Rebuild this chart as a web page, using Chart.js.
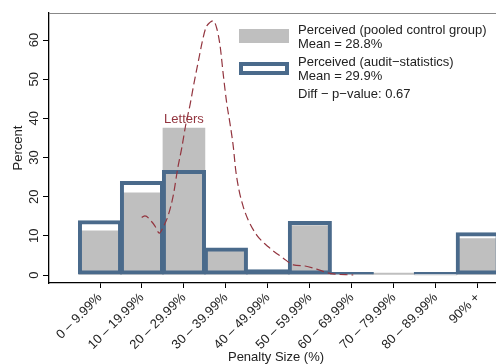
<!DOCTYPE html>
<html>
<head>
<meta charset="utf-8">
<script src="https://cdn.jsdelivr.net/npm/chart.js@4"></script>
<style>
  html,body{margin:0;padding:0;background:#fff;}
  #wrap{width:496px;height:364px;}
</style>
</head>
<body>
<div id="wrap"><canvas id="chart" width="496" height="364"></canvas></div>
<script>
const cats = ["0 – 9.99%","10 – 19.99%","20 – 29.99%","30 – 39.99%","40 – 49.99%","50 – 59.99%","60 – 69.99%","70 – 79.99%","80 – 89.99%","90% +"];
const pooled = [11.3, 21.0, 37.5, 6.7, 0.8, 12.6, 0.5, 0.5, 0, 9.3];
const audit  = [14.0, 24.0, 26.8, 7.0, 1.45, 13.8, 0.8, 0, 0.8, 10.9];
const yTicks = [0, 10, 20, 30, 40, 50, 60];

// "Letters" density curve (x in category units, y in percent)
const lettersX = [0.994,1.072,1.232,1.310,1.413,1.508,1.627,1.747,1.851,1.947,2.042,2.144,2.247,2.342,2.437,2.518,2.621,2.700,2.781,2.859,2.938,3.019,3.097,3.176,3.233,3.312,3.414,3.533,3.734,4.010,4.367,4.606,4.884,5.163,5.480,6.035];
const lettersY = [14.7,15.1,13.6,12.5,10.7,12.3,15.3,20.4,27.2,32.4,38.3,43.4,49.4,54.5,59.6,63.0,64.5,64.9,63.0,58.7,51.1,43.9,38.7,32.8,26.8,21.7,17.4,14.0,10.2,7.2,4.3,2.6,2.3,1.5,0.4,0];

const BLUE = "#4a6a8b";
const GRAY = "#bfbfbf";
const RED = "#93353f";
const FONT = "'Liberation Sans', Arial, sans-serif";

const extras = {
  id:"extras",
  afterDraw(c){
    const ctx = c.ctx, a = c.chartArea, x = c.scales.x, y = c.scales.y;
    ctx.save();
    // top frame line
    ctx.strokeStyle = "#888"; ctx.lineWidth = 1;
    ctx.beginPath(); ctx.moveTo(a.left, a.top+0.5); ctx.lineTo(a.right, a.top+0.5); ctx.stroke();

    ctx.fillStyle = "#222";
    ctx.font = "13px " + FONT;
    // y tick labels, rotated
    yTicks.forEach(v=>{
      ctx.save();
      ctx.translate(34, y.getPixelForValue(v));
      ctx.rotate(-Math.PI/2);
      ctx.textAlign = "center"; ctx.textBaseline = "middle";
      ctx.fillText(String(v), 0, 0);
      ctx.restore();
    });
    // axis titles
    ctx.save();
    ctx.translate(18, (a.top+a.bottom)/2);
    ctx.rotate(-Math.PI/2);
    ctx.textAlign = "center"; ctx.textBaseline = "middle";
    ctx.fillText("Percent", 0, 0);
    ctx.restore();
    ctx.textAlign = "center"; ctx.textBaseline = "middle";
    ctx.fillText("Penalty Size (%)", 276, 357);

    // Letters label
    ctx.fillStyle = RED;
    ctx.fillText("Letters", x.getPixelForValue(2), y.getPixelForValue(39.6));

    // legend
    ctx.fillStyle = GRAY;
    ctx.fillRect(239, 29, 50, 14);
    ctx.strokeStyle = BLUE; ctx.lineWidth = 4;
    ctx.strokeRect(241, 64, 46, 9);
    ctx.fillStyle = "#222"; ctx.textAlign = "left";
    ctx.fillText("Perceived (pooled control group)", 298, 30);
    ctx.fillText("Mean = 28.8%", 298, 44);
    ctx.fillText("Perceived (audit−statistics)", 298, 62);
    ctx.fillText("Mean = 29.9%", 298, 76);
    ctx.fillText("Diff − p−value: 0.67", 298, 94);
    ctx.restore();
  }
};

new Chart(document.getElementById("chart"), {
  type:"bar",
  data:{
    datasets:[
      { type:"line", label:"Letters", order:0,
        data: lettersX.map((v,i)=>({x:v, y:lettersY[i]})),
        borderColor:RED, borderWidth:1.2, borderDash:[8,4], pointRadius:0,
        cubicInterpolationMode:"monotone", fill:false },
      { label:"Perceived (audit-statistics)", order:1, grouped:false,
        data: audit.map((v,i)=>({x:i, y:v})),
        backgroundColor:"rgba(0,0,0,0)", borderColor:BLUE, borderWidth:4, borderSkipped:false,
        barPercentage:1.05, categoryPercentage:1 },
      { label:"Perceived (pooled control group)", order:2, grouped:false,
        data: pooled.map((v,i)=>({x:i, y:v})),
        backgroundColor:GRAY, borderWidth:0,
        barPercentage:1, categoryPercentage:1 }
    ]
  },
  options:{
    responsive:false, animation:false,
    layout:{ padding:{ top:13, left:0, right:0, bottom:0 } },
    plugins:{ legend:{display:false}, tooltip:{enabled:false} },
    scales:{
      x:{ type:"linear", min:-1.2152, max:9.4353, offset:false,
        afterBuildTicks:s=>{ s.ticks = cats.map((_,i)=>({value:i})); },
        afterFit:s=>{ s.height = 81; s.paddingLeft = 0; s.paddingRight = 0; },
        ticks:{ autoSkip:false, minRotation:45, maxRotation:45, padding:2, color:"#222",
          font:{ size:13, family:FONT }, callback:v=>cats[v] ?? "" },
        grid:{ offset:false, drawOnChartArea:false, drawTicks:true, tickLength:5, color:"#000" },
        border:{ display:true, color:"#000", width:1.3 }
      },
      y:{ min:-2.04, max:66.9,
        afterBuildTicks:s=>{ s.ticks = yTicks.map(v=>({value:v})); },
        afterFit:s=>{ s.width = 49; },
        ticks:{ display:false },
        grid:{ drawOnChartArea:false, drawTicks:true, tickLength:6, color:"#000" },
        border:{ display:true, color:"#000", width:1.3 }
      }
    }
  },
  plugins:[extras]
});
</script>
</body>
</html>
